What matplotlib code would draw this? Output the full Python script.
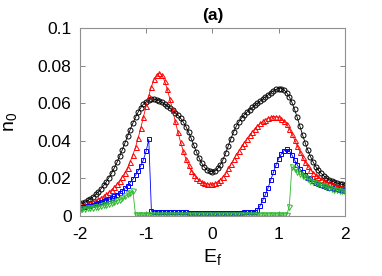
import numpy as np
import matplotlib.pyplot as plt
from matplotlib.ticker import FuncFormatter

plt.rcParams['font.family'] = ['Liberation Sans', 'DejaVu Sans']
plt.rcParams['axes.unicode_minus'] = False

# E_f grid, step 0.04
ef = np.linspace(-2, 2, 101)

black = [0.0062, 0.0068, 0.0075, 0.0083, 0.0092, 0.0103, 0.0115, 0.0129, 0.0145, 0.0163,
         0.0183, 0.0205, 0.0229, 0.0256, 0.0285, 0.0317, 0.0352, 0.0388, 0.0424, 0.0460,
         0.0494, 0.0525, 0.0553, 0.0576, 0.0595, 0.0608, 0.0616, 0.0620, 0.0621, 0.0618,
         0.0612, 0.0604, 0.0595, 0.0585, 0.0574, 0.0562, 0.0550, 0.0536, 0.0520, 0.0500,
         0.0476, 0.0447, 0.0413, 0.0376, 0.0340, 0.0308, 0.0281, 0.0260, 0.0246, 0.0238,
         0.0236, 0.0241, 0.0253, 0.0273, 0.0300, 0.0335, 0.0373, 0.0412, 0.0447, 0.0477,
         0.0501, 0.0521, 0.0538, 0.0552, 0.0565, 0.0577, 0.0589, 0.0600, 0.0611, 0.0622,
         0.0633, 0.0644, 0.0655, 0.0665, 0.0673, 0.0677, 0.0677, 0.0670, 0.0656, 0.0634,
         0.0604, 0.0567, 0.0524, 0.0478, 0.0432, 0.0389, 0.0350, 0.0316, 0.0287, 0.0263,
         0.0243, 0.0227, 0.0214, 0.0203, 0.0194, 0.0187, 0.0181, 0.0176, 0.0172, 0.0168,
         0.0165]

red = [0.0052, 0.0056, 0.0060, 0.0065, 0.0070, 0.0076, 0.0082, 0.0089, 0.0097, 0.0106,
       0.0116, 0.0127, 0.0140, 0.0154, 0.0170, 0.0188, 0.0208, 0.0231, 0.0258, 0.0289,
       0.0325, 0.0367, 0.0415, 0.0469, 0.0527, 0.0585, 0.0640, 0.0688, 0.0726, 0.0752,
       0.0760, 0.0748, 0.0717, 0.0673, 0.0620, 0.0562, 0.0503, 0.0446, 0.0393, 0.0345,
       0.0304, 0.0270, 0.0242, 0.0220, 0.0203, 0.0190, 0.0181, 0.0175, 0.0171, 0.0169,
       0.0170, 0.0174, 0.0182, 0.0194, 0.0210, 0.0230, 0.0253, 0.0277, 0.0301, 0.0325,
       0.0348, 0.0370, 0.0391, 0.0411, 0.0430, 0.0448, 0.0464, 0.0479, 0.0492, 0.0503,
       0.0513, 0.0520, 0.0525, 0.0528, 0.0528, 0.0525, 0.0518, 0.0506, 0.0488, 0.0465,
       0.0437, 0.0406, 0.0374, 0.0343, 0.0314, 0.0288, 0.0266, 0.0247, 0.0231, 0.0218,
       0.0206, 0.0196, 0.0188, 0.0181, 0.0175, 0.0170, 0.0165, 0.0161, 0.0157, 0.0153,
       0.0150]

blue = [0.0045, 0.0047, 0.0050, 0.0053, 0.0056, 0.0060, 0.0064, 0.0068, 0.0073, 0.0078,
        0.0084, 0.0090, 0.0097, 0.0105, 0.0114, 0.0124, 0.0135, 0.0148, 0.0162, 0.0178,
        0.0196, 0.0217, 0.0241, 0.0268, 0.0300, 0.0345, 0.0408, 0.0026, 0.0023, 0.0022,
        0.0022, 0.0021, 0.0021, 0.0021, 0.0021, 0.0020, 0.0020, 0.0020, 0.0020, 0.0020,
        0.0020, 0.0019, 0.0019, 0.0019, 0.0019, 0.0019, 0.0019, 0.0019, 0.0019, 0.0019,
        0.0019, 0.0019, 0.0019, 0.0019, 0.0019, 0.0019, 0.0019, 0.0019, 0.0019, 0.0019,
        0.0019, 0.0019, 0.0020, 0.0020, 0.0021, 0.0022, 0.0024, 0.0032, 0.0055, 0.0085,
        0.0115, 0.0150, 0.0192, 0.0232, 0.0272, 0.0305, 0.0330, 0.0348, 0.0354, 0.0347,
        0.0325, 0.0298, 0.0272, 0.0250, 0.0232, 0.0217, 0.0205, 0.0195, 0.0186, 0.0178,
        0.0171, 0.0165, 0.0160, 0.0155, 0.0151, 0.0148, 0.0145, 0.0142, 0.0140, 0.0138,
        0.0136]

green = [0.0035, 0.0037, 0.0039, 0.0041, 0.0043, 0.0045, 0.0048, 0.0051, 0.0054, 0.0057,
         0.0061, 0.0065, 0.0070, 0.0075, 0.0081, 0.0088, 0.0096, 0.0105, 0.0115, 0.0125,
         0.0135, 0.0006, 0.0005, 0.0005, 0.0005, 0.0005, 0.0005, 0.0005, 0.0005, 0.0005,
         0.0005, 0.0005, 0.0005, 0.0005, 0.0005, 0.0005, 0.0005, 0.0005, 0.0005, 0.0005,
         0.0005, 0.0005, 0.0005, 0.0005, 0.0005, 0.0005, 0.0005, 0.0005, 0.0005, 0.0005,
         0.0005, 0.0005, 0.0005, 0.0005, 0.0005, 0.0005, 0.0005, 0.0005, 0.0005, 0.0005,
         0.0005, 0.0005, 0.0005, 0.0005, 0.0005, 0.0005, 0.0005, 0.0005, 0.0005, 0.0005,
         0.0005, 0.0005, 0.0005, 0.0005, 0.0005, 0.0005, 0.0005, 0.0005, 0.0005, 0.0050,
         0.0262, 0.0248, 0.0236, 0.0225, 0.0215, 0.0206, 0.0197, 0.0189, 0.0182, 0.0175,
         0.0169, 0.0163, 0.0158, 0.0153, 0.0149, 0.0145, 0.0141, 0.0138, 0.0135, 0.0132,
         0.0130]

fig = plt.figure(figsize=(3.82, 2.76), dpi=100)
ax = fig.add_axes([0.209, 0.217, 0.694, 0.682])

ms = 3.6
ax.plot(ef, black, '-o', color='black', lw=0.6, ms=ms, mfc='none', mew=0.7)
ax.plot(ef, red, '-^', color='#ff0000', lw=0.6, ms=ms, mfc='none', mew=0.7)
ax.plot(ef, blue, '-s', color='#0000ff', lw=0.6, ms=ms - 0.6, mfc='none', mew=0.7)
ax.plot(ef, green, '-v', color='#2eb82e', lw=0.6, ms=ms, mfc='none', mew=0.7)

ax.set_xlim(-2, 2)
ax.set_ylim(0, 0.1)
ax.set_xticks([-2, -1, 0, 1, 2])
ax.set_yticks([0, 0.02, 0.04, 0.06, 0.08, 0.1])
ax.yaxis.set_major_formatter(FuncFormatter(lambda v, p: '%g' % v))
ax.tick_params(direction='in', top=True, right=True, length=3.5, width=0.6,
               color='#707070', labelsize=12.5)
ax.tick_params(axis='x', pad=8)
ax.tick_params(axis='y', pad=6)
for s in ax.spines.values():
    s.set_color('#909090')
    s.set_linewidth(0.8)

ax.set_xlabel('E$_\\mathregular{f}$', fontsize=14, labelpad=4)
ax.set_ylabel('n$_\\mathregular{0}$', fontsize=14)
ax.yaxis.set_label_coords(-0.225, 0.5)
ax.set_title('(a)', fontsize=12.5, fontweight='bold', pad=6)

fig.savefig('out.png', dpi=100)
